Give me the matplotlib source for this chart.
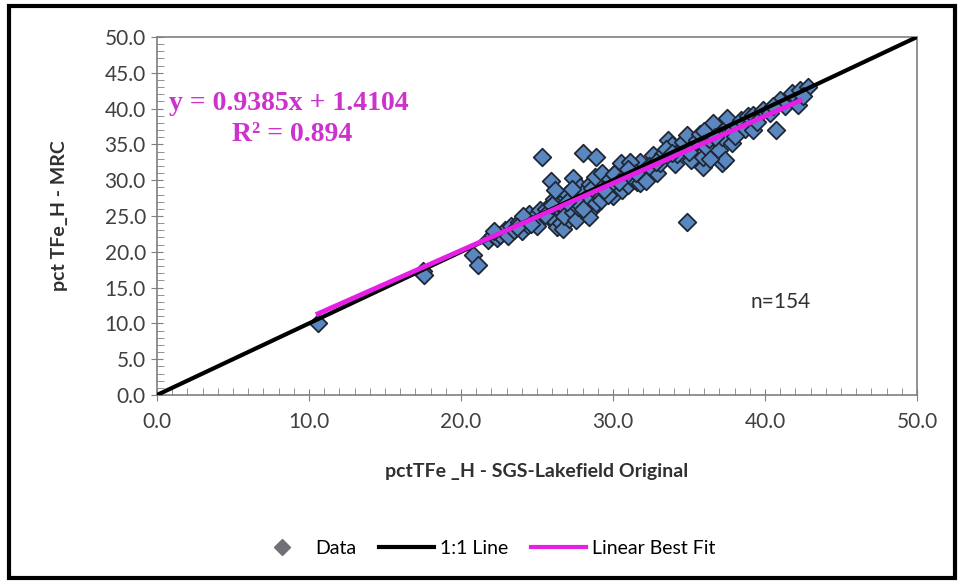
import matplotlib.pyplot as plt
from matplotlib.lines import Line2D
from matplotlib.patches import Rectangle
from matplotlib.ticker import MultipleLocator, FormatStrFormatter

# Data (SGS-Lakefield original vs MRC, pct TFe_H)
sgs_x = [10.6, 17.5, 17.6, 20.8, 21.1,
         21.8, 22.1, 22.4, 22.6, 22.9, 23.1, 23.3, 22.2,
         23.5, 23.8, 24.0, 24.2, 24.4, 24.5, 24.7, 24.9, 25.0, 24.1, 23.7, 25.2,
         25.3, 25.9, 26.1, 25.6, 25.8, 26.0, 26.2, 26.3, 26.5, 26.4,
         26.6, 26.8, 26.9, 27.0, 27.2, 26.7, 27.1, 25.5, 26.0, 26.8,
         27.4, 27.4, 27.6, 27.8, 27.9, 28.0, 28.1, 28.3, 28.2, 28.5, 28.7,
         28.9, 28.9, 29.0, 29.1, 28.4, 27.7, 28.6, 27.5, 29.2, 28.8, 29.3,
         29.6, 29.8, 30.0, 30.2, 30.3, 30.5, 30.6, 30.8, 31.0, 31.2,
         31.4, 31.6, 31.8, 31.8, 32.0, 29.7, 30.1, 31.1, 31.5, 32.2,
         32.6, 32.9, 33.1, 33.3, 33.6, 33.8, 33.9, 34.1, 34.4, 34.6, 34.9, 34.9, 35.1, 34.2, 32.4, 33.5,
         35.3, 35.5, 35.7, 35.9, 35.9, 36.1, 36.3, 36.5, 36.6, 36.8,
         37.0, 37.2, 37.2, 37.4, 37.5, 37.5, 37.8, 37.9, 36.0, 36.4,
         38.2, 38.4, 38.7, 38.9, 39.2, 39.2, 39.5, 39.9, 40.3, 40.7, 41.0, 41.3, 41.8, 42.2, 42.3, 42.8, 42.5, 40.5,
         27.0, 27.3, 28.0, 29.4, 30.4, 31.0, 32.8, 33.9, 35.0, 36.7, 38.0, 24.6, 26.2]
mrc_y = [10.0, 17.3, 16.8, 19.5, 18.2,
         21.7, 22.3, 21.9, 22.4, 23.1, 22.2, 23.6, 22.9,
         23.0, 24.1, 22.9, 24.6, 23.8, 25.3, 24.2, 25.0, 23.6, 25.0, 23.5, 25.8,
         33.2, 29.9, 27.4, 26.0, 24.8, 25.4, 24.3, 23.4, 25.8, 26.8,
         24.0, 26.3, 27.5, 28.1, 25.4, 23.2, 24.6, 25.2, 26.6, 25.0,
         30.3, 25.6, 24.4, 29.1, 27.0, 33.8, 28.4, 27.7, 25.3, 29.5, 26.1,
         33.2, 26.8, 28.2, 29.6, 24.9, 26.3, 28.9, 27.3, 27.3, 30.4, 31.0,
         29.0, 30.2, 27.8, 29.1, 31.4, 32.4, 28.6, 30.6, 29.3, 31.8,
         30.0, 29.7, 32.5, 29.6, 31.2, 28.0, 30.8, 32.6, 31.0, 29.9,
         33.5, 31.0, 32.4, 33.6, 35.6, 33.0, 34.9, 32.2, 34.2, 35.4, 36.3, 24.2, 32.8, 33.6, 32.0, 34.4,
         34.9, 35.6, 36.4, 31.8, 33.3, 34.6, 35.8, 37.2, 38.0, 33.4,
         34.2, 32.4, 36.0, 32.8, 37.4, 38.7, 35.2, 37.0, 36.9, 33.0,
         37.5, 38.4, 37.2, 38.9, 39.1, 37.0, 38.2, 39.8, 39.4, 37.0, 41.2, 40.4, 42.2, 40.5, 42.6, 43.0, 41.8, 40.3,
         26.9, 28.8, 26.0, 28.6, 29.8, 31.5, 32.6, 33.8, 33.9, 36.1, 36.2, 23.9, 28.6]

# 1:1 line and regression from the chart
one_to_one = [0, 50]
fit_slope = 0.9385
fit_intercept = 1.4104
fit_r2 = 0.894
fit_range = [10.6, 42.3]

fig = plt.figure(figsize=(9.6, 5.82), dpi=100)
ax = fig.add_axes([0.1635, 0.3213, 0.7917, 0.6151])

ax.scatter(sgs_x, mrc_y, marker='D', s=80, facecolor='#5b87c0',
           edgecolor='#1f2733', linewidth=1.3, zorder=2)
ax.plot(one_to_one, one_to_one, color='black', lw=3, zorder=3)
fit_y = [fit_slope * v + fit_intercept for v in fit_range]
ax.plot(fit_range, fit_y, color='#e61ee6', lw=3.5, zorder=4)

ax.set_xlim(0, 50)
ax.set_ylim(0, 50)
ax.xaxis.set_major_locator(MultipleLocator(10))
ax.xaxis.set_minor_locator(MultipleLocator(1))
ax.yaxis.set_major_locator(MultipleLocator(5))
ax.yaxis.set_minor_locator(MultipleLocator(1))
ax.xaxis.set_major_formatter(FormatStrFormatter('%.1f'))
ax.yaxis.set_major_formatter(FormatStrFormatter('%.1f'))
ax.tick_params(which='major', direction='inout', length=9, color='#808080',
               labelsize=15, labelcolor='#404040')
ax.tick_params(which='minor', direction='in', length=5, color='#808080')
ax.tick_params(axis='x', pad=8)
for lab in ax.get_xticklabels() + ax.get_yticklabels():
    lab.set_family('Lato')
for sp in ax.spines.values():
    sp.set_color('#7f7f7f')
    sp.set_linewidth(1.2)

ax.set_xlabel('pctTFe _H - SGS-Lakefield Original', fontsize=14,
              fontweight='bold', family='Lato', color='#303030', labelpad=22)
ax.set_ylabel('pct TFe_H - MRC', fontsize=14, fontweight='bold',
              family='Lato', color='#303030', labelpad=26)

ax.text(8.7, 40.7, f'y = {fit_slope}x + {fit_intercept}', color='#cc33cc',
        fontsize=20, fontweight='bold', family='Liberation Serif', ha='center', va='center')
ax.text(8.9, 36.4, f'R² = {fit_r2}', color='#cc33cc',
        fontsize=20, fontweight='bold', family='Liberation Serif', ha='center', va='center')
ax.text(41.0, 13.0, 'n=154', fontsize=15, family='Lato', color='#303030',
        ha='center', va='center')

handles = [
    Line2D([], [], marker='D', linestyle='none', markersize=8,
           markerfacecolor='#707078', markeredgecolor='#707078'),
    Line2D([], [], color='black', lw=3),
    Line2D([], [], color='#e61ee6', lw=3),
]
fig.legend(handles, ['Data', '1:1 Line', 'Linear Best Fit'], loc='center',
           bbox_to_anchor=(0.505, 0.058), ncol=3, frameon=False,
           prop={'family': 'Lato', 'size': 14}, handlelength=2.8,
           columnspacing=1.2, handletextpad=0.3)

fig.patches.append(Rectangle((0.009, 0.007), 0.986, 0.983, transform=fig.transFigure,
                             fill=False, edgecolor='black', lw=3))

fig.savefig('out.png', dpi=100)
